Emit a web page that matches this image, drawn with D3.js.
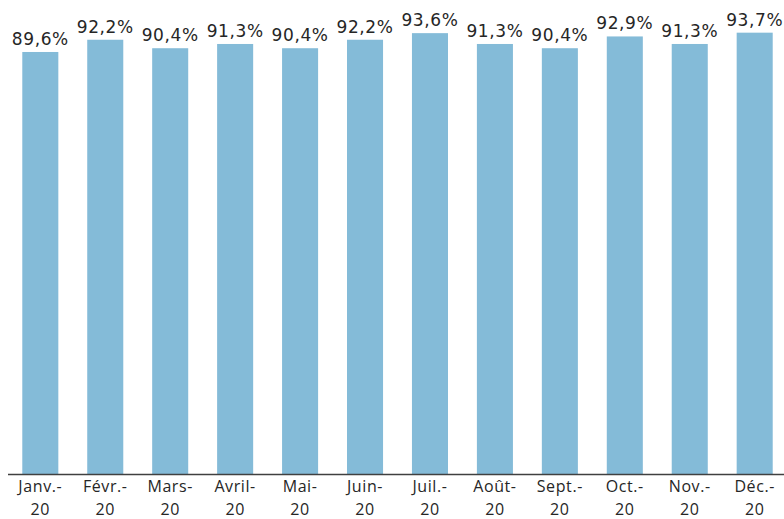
<!DOCTYPE html>
<html>
<head>
<meta charset="utf-8">
<script src="https://cdn.jsdelivr.net/npm/d3@7"></script>
<style>
    body { margin: 0; background: #fff; }
    .bar { fill: #84bbd8; }
    .value-label { font-family: "DejaVu Sans", Verdana, sans-serif; font-size: 17px; fill: #262626; letter-spacing: 0.6px; }
    .tick-label { font-family: "Open Sans", sans-serif; font-size: 16px; fill: #262626; letter-spacing: 0.6px; }
</style>
</head>
<body>
<script>
// Data
var months = ["Janv.-", "Févr.-", "Mars-", "Avril-", "Mai-", "Juin-", "Juil.-", "Août-", "Sept.-", "Oct.-", "Nov.-", "Déc.-"];
var year = "20";
var values = [89.6, 92.2, 90.4, 91.3, 90.4, 92.2, 93.6, 91.3, 90.4, 92.9, 91.3, 93.7];

var w = 784, h = 519;

var svg = d3.select("body").append("svg")
    .attr("width", w)
    .attr("height", h);

// Scales
var x = d3.scaleBand()
    .domain(d3.range(months.length))
    .range([8, 787])
    .paddingInner(0.445)
    .paddingOuter(0.22);

var y = d3.scaleLinear()
    .domain([0, 100])
    .range([474, 3]);

// Bars
svg.selectAll("rect.bar")
    .data(values)
    .enter().append("rect")
    .attr("class", "bar")
    .attr("x", function(d, i) { return x(i); })
    .attr("width", x.bandwidth())
    .attr("y", function(d) { return y(d); })
    .attr("height", function(d) { return y(0) - y(d); });

// Value labels
svg.selectAll("text.value-label")
    .data(values)
    .enter().append("text")
    .attr("class", "value-label")
    .attr("x", function(d, i) { return x(i) + x.bandwidth()/2; })
    .attr("y", function(d) { return y(d) - 7; })
    .attr("text-anchor", "middle")
    .text(function(d) { return d.toFixed(1).replace(".", ",") + "%"; });

// Axis line
svg.append("line")
    .attr("x1", 8)
    .attr("x2", w)
    .attr("y1", y(0) + 0.5)
    .attr("y2", y(0) + 0.5)
    .attr("stroke", "#404040")
    .attr("stroke-width", 1.5);

// Category labels, two lines
var ticks = svg.selectAll("text.tick-label")
    .data(months)
    .enter().append("text")
    .attr("class", "tick-label")
    .attr("text-anchor", "middle");

ticks.append("tspan")
    .attr("x", function(d, i) { return x(i) + x.bandwidth()/2; })
    .attr("y", 492)
    .text(function(d) { return d; });

ticks.append("tspan")
    .attr("x", function(d, i) { return x(i) + x.bandwidth()/2; })
    .attr("y", 515)
    .text(year);
</script>
</body>
</html>
